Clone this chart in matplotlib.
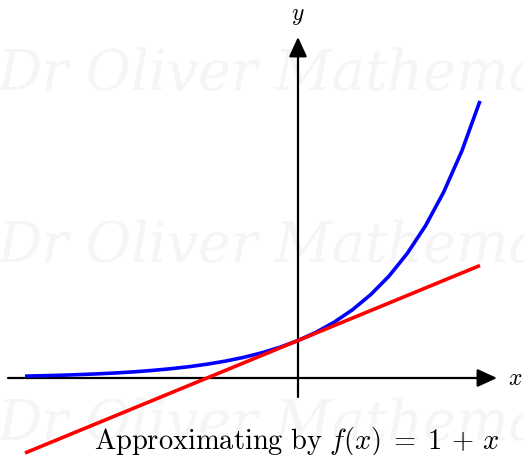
import numpy as np
import matplotlib
matplotlib.use("Agg")
import matplotlib.pyplot as plt

# Data
exp_x = [-3.0, -2.8, -2.6, -2.4, -2.2, -2.0, -1.8, -1.6, -1.4, -1.2, -1.0, -0.8, -0.6,
         -0.4, -0.2, 0.0, 0.2, 0.4, 0.6, 0.8, 1.0, 1.2, 1.4, 1.6, 1.8, 2.0]
exp_y = [0.050, 0.061, 0.074, 0.091, 0.111, 0.135, 0.165, 0.202, 0.247, 0.301, 0.368,
         0.449, 0.549, 0.670, 0.819, 1.000, 1.221, 1.492, 1.822, 2.226, 2.718, 3.320,
         4.055, 4.953, 6.050, 7.389]
line_x = [-3.0, 2.0]
line_y = [-2.0, 3.0]
caption = r"$\mathrm{Approximating\ by}\ f(x) \;=\; 1 \,+\, x$"
watermark = "Dr Oliver Mathematics"

plt.rcParams['mathtext.fontset'] = 'cm'
plt.rcParams['font.family'] = ['DejaVu Serif']

W, H = 524, 456
fig = plt.figure(figsize=(W / 100, H / 100), dpi=100)
ax = fig.add_axes([0, 0, 1, 1])
ax.set_axis_off()

x0px, y0px = 298, 379
sx, sy = 91.0, 37.5
ax.set_xlim(-x0px / sx, (W - x0px) / sx)
ax.set_ylim(-(H - y0px) / sy, y0px / sy)

# watermark
for yy in [(y0px - 90) / sy, (y0px - 262) / sy, (y0px - 440) / sy]:
    ax.text(-x0px / sx - 0.02, yy, watermark, fontsize=40, color='#f5f5f5',
            fontstyle='italic', family='DejaVu Serif',
            ha='left', va='baseline', zorder=0, clip_on=True)

# axes lines with arrows
ax.annotate('', xy=((497 - x0px) / sx, 0), xytext=((8 - x0px) / sx, 0),
            arrowprops=dict(arrowstyle='-|>,head_length=1.2,head_width=0.55',
                            lw=1.6, color='black', shrinkA=0, shrinkB=0), zorder=2)
ax.annotate('', xy=(0, (y0px - 38) / sy), xytext=(0, (y0px - 398) / sy),
            arrowprops=dict(arrowstyle='-|>,head_length=1.2,head_width=0.55',
                            lw=1.6, color='black', shrinkA=0, shrinkB=0), zorder=2)

ax.plot(exp_x, exp_y, color='#0000ff', lw=2.6, solid_capstyle='butt', zorder=3)
ax.plot(line_x, line_y, color='#ff0000', lw=2.6, solid_capstyle='butt', zorder=4)

ax.text((515 - x0px) / sx, 0, r"$x$", fontsize=17, ha='center', va='center')
ax.text(0, (y0px - 16) / sy, r"$y$", fontsize=17, ha='center', va='center')

ax.text((297 - x0px) / sx, (y0px - 449) / sy, caption, fontsize=20.5,
        ha='center', va='baseline', zorder=5)

fig.savefig("out.png", dpi=100)
